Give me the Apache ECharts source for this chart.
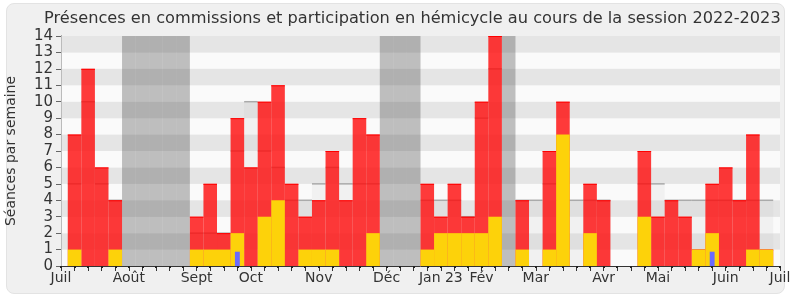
<!DOCTYPE html>
<html><head><meta charset="utf-8">
<script src="https://cdn.jsdelivr.net/npm/echarts@6/dist/echarts.min.js"></script>
<style>
html,body{margin:0;padding:0;background:#fff;}
#frame{position:absolute;left:6px;top:3px;width:777px;height:289px;background:#f0f0f0;border:1px solid #e3e3e3;border-radius:8px;}
#chart{position:absolute;left:0;top:0;width:790px;height:300px;}
</style></head><body>
<div id="frame"></div><div id="chart"></div>
<script>
// Week indices 1..52 (session 2022-2023)
const weeks = [1,2,3,4,5,6,7,8,9,10,11,12,13,14,15,16,17,18,19,20,21,22,23,24,25,26,27,28,29,30,31,32,33,34,35,36,37,38,39,40,41,42,43,44,45,46,47,48,49,50,51,52];
// Présences totales par semaine (rouge)
const presences = [8,12,6,4,0,0,0,0,0,3,5,2,9,6,10,11,5,3,4,7,4,9,8,0,0,0,5,3,5,3,10,14,0,4,0,7,10,0,5,4,0,0,7,3,4,3,1,5,6,4,8,1];
// Participation en hémicycle (jaune)
const hemicycle = [1,0,0,1,0,0,0,0,0,1,1,1,2,0,3,4,0,1,1,1,0,0,2,0,0,0,1,2,2,2,2,3,0,1,0,1,8,0,2,0,0,0,3,0,0,0,1,2,0,0,1,1];
// Médiane de l'ensemble des députés
const mediane = [5,10,5,4,0,0,0,0,0,2,2,2,7,10,7,6,4,4,5,6,5,5,5,0,0,0,4,4,4,3,9,12,0,4,4,5,4,4,4,4,0,0,5,5,4,4,4,4,4,4,4,4];
// Petites barres bleues
const blueWeeks = [13,48];
const blueValues = [0.87,0.87];
// Vacances parlementaires
const vacances = [5,6,7,8,9,24,25,26,33];
// Étiquettes des mois
const monthTicks = [0,5,10,14,19,24,28,31,35,40,44,49,53];
const monthLabels = ['Juil','Août','Sept','Oct','Nov','Déc','Jan 23','Fév','Mar','Avr','Mai','Juin','Juil'];

const FONT = 'DejaVu Sans';
const chart = echarts.init(document.getElementById('chart'), null, {renderer:'canvas'});
const pairs = (arr) => arr.map((v,i)=>[weeks[i], v]);
const labelMap = {};
monthTicks.forEach((t,i)=>labelMap[t]=monthLabels[i]);

chart.setOption({
  animation:false,
  backgroundColor:'transparent',
  title:{text:'Présences en commissions et participation en hémicycle au cours de la session 2022-2023',
    left:39, top:6, textStyle:{fontFamily:FONT, fontSize:16.2, fontWeight:'normal', color:'#333'}},
  grid:{left:61, right:10, top:36, bottom:34, containLabel:false, outerBoundsMode:'none'},
  xAxis:[
    {type:'value', min:0, max:53, interval:1, position:'bottom',
     axisLine:{show:true, onZero:false, lineStyle:{color:'#333', width:1}},
     axisTick:{show:true, length:5, lineStyle:{color:'#333'}},
     axisLabel:{customValues:monthTicks, formatter:(v)=>labelMap[v]||'', fontFamily:FONT, fontSize:14, color:'#333', margin:5},
     splitLine:{show:false}},
    {type:'value', min:0, max:53, interval:1, position:'top',
     axisLine:{show:false}, axisTick:{show:true, inside:true, length:2, lineStyle:{color:'#222', width:2}},
     axisLabel:{show:false}, splitLine:{show:false}}
  ],
  yAxis:[
    {type:'value', min:0, max:14, interval:1, position:'left',
     name:'Séances par semaine', nameLocation:'middle', nameGap:43,
     nameTextStyle:{fontFamily:FONT, fontSize:14, color:'#333'},
     axisLine:{show:true, lineStyle:{color:'#333'}},
     axisTick:{show:true, length:5, lineStyle:{color:'#666'}},
     axisLabel:{fontFamily:FONT, fontSize:15, color:'#333', margin:8},
     splitLine:{show:false},
     splitArea:{show:true, areaStyle:{color:['#fafafa','#e5e5e5']}}},
    {type:'value', min:0, max:14, interval:1, position:'right',
     axisLine:{show:true, lineStyle:{color:'#bbb'}}, axisTick:{show:false}, axisLabel:{show:false}, splitLine:{show:false}}
  ],
  series:[
    {type:'custom', name:'vacances', xAxisIndex:0, yAxisIndex:0, z:1,
     data:vacances.map(w=>[w,14]),
     renderItem:(params, api)=>{
       const w=api.value(0);
       const a=api.coord([w-0.5, api.value(1)]), b=api.coord([w+0.5, 0]);
       return {type:'rect', shape:{x:a[0], y:a[1], width:b[0]-a[0], height:b[1]-a[1]},
         style:{fill:'rgba(70,70,70,0.33)'}};
     }},
    {type:'custom', name:'médiane', xAxisIndex:0, yAxisIndex:0, z:2,
     data:pairs(mediane),
     renderItem:(params, api)=>{
       const w=api.value(0), m=api.value(1);
       if(!m) return null;
       const a=api.coord([w-0.5, m]), b=api.coord([w+0.5, 0]);
       return {type:'group', children:[
         {type:'rect', shape:{x:a[0], y:a[1], width:b[0]-a[0], height:b[1]-a[1]}, style:{fill:'rgba(180,180,180,0.12)'}},
         {type:'line', shape:{x1:a[0], y1:a[1], x2:b[0], y2:a[1]}, style:{stroke:'#aaa', lineWidth:1.5}}
       ]};
     }},
    {type:'bar', name:'présences', xAxisIndex:0, yAxisIndex:0, barWidth:'100%', z:3,
     data:pairs(presences), itemStyle:{color:'rgba(255,10,10,0.8)'}},
    {type:'custom', name:'présences-haut', xAxisIndex:0, yAxisIndex:0, z:3.5,
     data:pairs(presences),
     renderItem:(params, api)=>{
       const w=api.value(0), v=api.value(1);
       if(!v) return null;
       const a=api.coord([w-0.5, v]), b=api.coord([w+0.5, v]);
       return {type:'line', shape:{x1:a[0], y1:a[1]+0.5, x2:b[0], y2:a[1]+0.5}, style:{stroke:'#ff0000', lineWidth:1}};
     }},
    {type:'bar', name:'hémicycle', xAxisIndex:1, yAxisIndex:0, barWidth:'100%', z:4,
     data:pairs(hemicycle), itemStyle:{color:'#fdd20a'}},
    {type:'custom', name:'bleu', xAxisIndex:0, yAxisIndex:0, z:5,
     data:blueWeeks.map((w,i)=>[w, blueValues[i]]),
     renderItem:(params, api)=>{
       const w=api.value(0);
       const a=api.coord([w-0.18, api.value(1)]), b=api.coord([w+0.18, 0]);
       return {type:'rect', shape:{x:a[0], y:a[1], width:b[0]-a[0], height:b[1]-a[1]}, style:{fill:'#6a6aff'}};
     }}
  ]
});
</script>
</body></html>
